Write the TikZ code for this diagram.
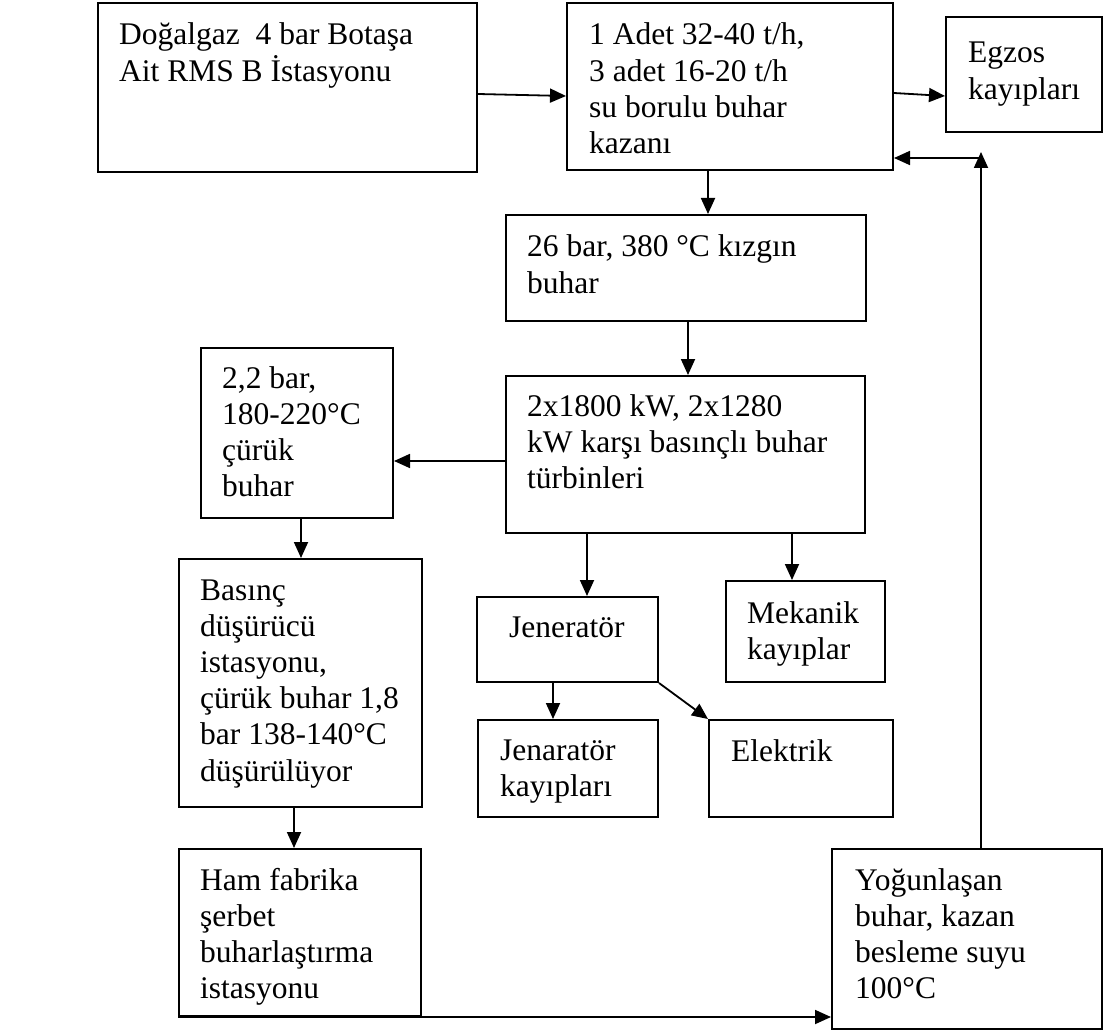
\documentclass[tikz,border=0pt]{standalone}
\usepackage{fontspec}
\setmainfont{Liberation Serif}
\usetikzlibrary{arrows.meta,calc}
\newcommand\mybox[5]{\path ({(#2+#4)/2},{(#3+#5)/2}) node[box,minimum width={(#4-#2)*1pt},minimum height={(#5-#3)*1pt}] (#1) {};}
\newcommand\mylines[1]{\begin{tabular}[t]{@{}l@{}}#1\end{tabular}}
\begin{document}
\begin{tikzpicture}[x=1pt,y=-1pt,
  box/.style={draw,line width=2pt,inner sep=0pt,rectangle},
  txt/.style={anchor=base west,inner sep=0pt,font=\fontsize{31.5}{36.2}\selectfont},
  arr/.style={line width=1.8pt,-{Triangle[length=16pt,width=14pt]}}]
\useasboundingbox (0,0) rectangle (1103,1032);
% boxes
\mybox{A}{98}{3}{477}{172}
\mybox{B}{567}{3}{893}{170}
\mybox{C}{946}{17}{1102}{132}
\mybox{D}{506}{215}{866}{321}
\mybox{E}{506}{376}{865}{533}
\mybox{F}{201}{348}{393}{518}
\mybox{G}{179}{559}{422}{807}
\mybox{H}{179}{849}{421}{1016}
\mybox{I}{832}{849}{1102}{1029}
\mybox{J}{477}{597}{658}{682}
\mybox{M}{726}{581}{885}{682}
\mybox{K}{478}{720}{658}{817}
\mybox{L}{709}{720}{893}{817}
% texts
\node[txt] (At) at (119,45) {\mylines{Doğalgaz\ \ 4 bar Botaşa\\Ait RMS B İstasyonu}};
\node[txt] (Bt) at (589,45) {\mylines{1 Adet 32-40 t/h,\\3 adet 16-20 t/h\\su borulu buhar\\kazanı}};
\node[txt] (Ct) at (968,63) {\mylines{Egzos\\kayıpları}};
\node[txt] (Dt) at (527,257) {\mylines{26 bar, 380 °C kızgın\\buhar}};
\node[txt] (Et) at (527,416) {\mylines{2x1800 kW, 2x1280\\kW karşı basınçlı buhar\\türbinleri}};
\node[txt] (Ft) at (222,388) {\mylines{2,2 bar,\\180-220°C\\çürük\\buhar}};
\node[txt] (Gt) at (200,600) {\mylines{Basınç\\düşürücü\\istasyonu,\\çürük buhar 1,8\\bar 138-140°C\\düşürülüyor}};
\node[txt] (Ht) at (200,890) {\mylines{Ham fabrika\\şerbet\\buharlaştırma\\istasyonu}};
\node[txt] (It) at (855,890) {\mylines{Yoğunlaşan\\buhar, kazan\\besleme suyu\\100°C}};
\node[txt] (Jt) at (509,637) {Jeneratör};
\node[txt] (Mt) at (747,623) {\mylines{Mekanik\\kayıplar}};
\node[txt] (Kt) at (500,760) {\mylines{Jenaratör\\kayıpları}};
\node[txt] (Lt) at (731,761) {Elektrik};
% connectors
\draw[arr] ($(A.north east)+(0,92)$) -- ($(B.north west)+(0,94)$);
\draw[arr] ($(B.north east)+(0,91)$) -- ($(C.north west)+(0,80)$);
\coordinate (b1) at ($(B.south west)+(142,0)$);
\draw[arr] (b1) -- (b1 |- D.north);
\coordinate (d1) at ($(D.south west)+(183,0)$);
\draw[arr] (d1) -- (d1 |- E.north);
\coordinate (e1) at ($(E.north west)+(0,86)$);
\draw[arr] (e1) -- (e1 -| F.east);
\coordinate (f1) at ($(F.south west)+(101,0)$);
\draw[arr] (f1) -- (f1 |- G.north);
\coordinate (g1) at ($(G.south west)+(116,0)$);
\draw[arr] (g1) -- (g1 |- H.north);
\draw[arr] (H.south west) -- (H.south west -| I.west);
\coordinate (i1) at ($(I.north west)+(150,0)$);
\coordinate (i2) at ($(B.north east)+(89,150)$);
\draw[arr] (i1) -- (i1 |- i2);
\coordinate (i3) at ($(B.north east)+(89,156)$);
\draw[arr] (i3) -- (i3 -| B.east);
\coordinate (e2) at ($(E.south west)+(82,0)$);
\draw[arr] (e2) -- (e2 |- J.north);
\coordinate (e3) at ($(E.south west)+(287,0)$);
\draw[arr] (e3) -- (e3 |- M.north);
\coordinate (j1) at ($(J.south west)+(77,0)$);
\draw[arr] (j1) -- (j1 |- K.north);
\draw[arr] (J.south east) -- (L.north west);
\end{tikzpicture}
\end{document}
